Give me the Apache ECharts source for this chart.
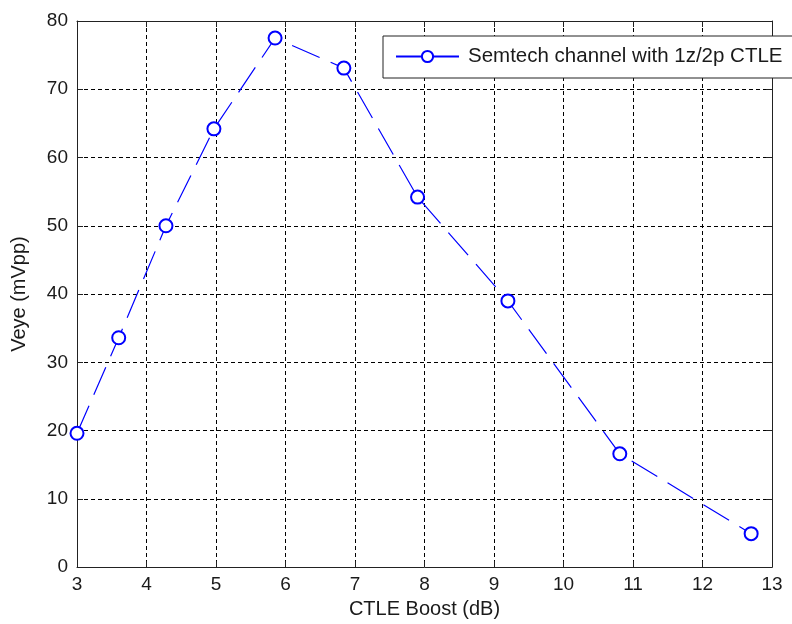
<!DOCTYPE html>
<html>
<head>
<meta charset="utf-8">
<script src="https://cdn.jsdelivr.net/npm/echarts@6/dist/echarts.min.js"></script>
<style>
  html, body { margin: 0; padding: 0; background: #fff; }
  #chart { width: 792px; height: 624px; }
</style>
</head>
<body>
<div id="chart"></div>
<script>
// CTLE boost sweep: eye height versus boost
const seriesName = 'Semtech channel with 1z/2p CTLE';
const boostDb = [3.0, 3.6, 4.28, 4.97, 5.85, 6.84, 7.9, 9.2, 10.81, 12.7];
const veyeMv = [19.6, 33.6, 50.0, 64.2, 77.5, 73.1, 54.2, 39.0, 16.6, 4.9];
const xTicks = [3, 4, 5, 6, 7, 8, 9, 10, 11, 12, 13];
const yTicks = [0, 10, 20, 30, 40, 50, 60, 70, 80];

const FONT = 'Liberation Sans, Arial, sans-serif';
const TEXT = '#1a1a1a';
const FRAME = '#222';
const dashGrid = { show: true, lineStyle: { color: '#000', type: [4, 3], width: 1 } };

const points = boostDb.map((x, i) => [x, veyeMv[i]]);

// Frame-only axes on the top and right sides (ticks pointing in, no labels)
function frameAxis(extra) {
  return Object.assign({
    type: 'value',
    axisLine: { show: true, onZero: false, lineStyle: { color: FRAME, width: 1 } },
    axisTick: { show: true, inside: true, length: 6, lineStyle: { color: FRAME } },
    axisLabel: { show: false },
    splitLine: { show: false }
  }, extra);
}

const chart = echarts.init(document.getElementById('chart'), null, { renderer: 'canvas' });
chart.setOption({
  animation: false,
  backgroundColor: '#fff',
  grid: { left: 77, right: 20, top: 21, bottom: 55, containLabel: false },
  legend: {
    data: [seriesName],
    left: 383, top: 36,
    padding: [10, 22, 11, 12],
    borderColor: FRAME, borderWidth: 1,
    backgroundColor: '#fff',
    itemWidth: 63, itemHeight: 14,
    lineStyle: { type: 'solid' },
    textStyle: { fontFamily: FONT, fontSize: 20.5, color: TEXT, padding: [0, 0, 0, 4] }
  },
  xAxis: [{
    type: 'value', min: xTicks[0], max: xTicks[xTicks.length - 1], interval: 1,
    name: 'CTLE Boost (dB)', nameLocation: 'middle', nameGap: 31,
    nameTextStyle: { fontFamily: FONT, fontSize: 20, color: TEXT },
    axisLine: { show: true, onZero: false, lineStyle: { color: FRAME, width: 1 } },
    axisTick: { show: true, inside: true, length: 6, lineStyle: { color: FRAME } },
    axisLabel: { fontFamily: FONT, fontSize: 19, color: TEXT, margin: 8 },
    splitLine: dashGrid
  }, frameAxis({ position: 'top', min: xTicks[0], max: xTicks[xTicks.length - 1], interval: 1 })],
  yAxis: [{
    type: 'value', min: yTicks[0], max: yTicks[yTicks.length - 1], interval: 10,
    name: 'Veye (mVpp)', nameLocation: 'middle', nameGap: 48, nameRotate: 90,
    nameTextStyle: { fontFamily: FONT, fontSize: 20, color: TEXT },
    axisLine: { show: true, onZero: false, lineStyle: { color: FRAME, width: 1 } },
    axisTick: { show: true, inside: true, length: 6, lineStyle: { color: FRAME } },
    axisLabel: { fontFamily: FONT, fontSize: 19, color: TEXT, margin: 9 },
    splitLine: dashGrid
  }, frameAxis({ position: 'right', min: yTicks[0], max: yTicks[yTicks.length - 1], interval: 10 })],
  series: [{
    name: seriesName,
    type: 'line',
    data: points,
    xAxisIndex: 0, yAxisIndex: 0,
    symbol: 'emptyCircle', symbolSize: 13,
    itemStyle: { color: '#0000ff', borderColor: '#0000ff', borderWidth: 1.3 },
    lineStyle: { color: '#0000ff', width: 1.2, type: [30, 12] },
    z: 5
  }]
});
</script>
</body>
</html>
